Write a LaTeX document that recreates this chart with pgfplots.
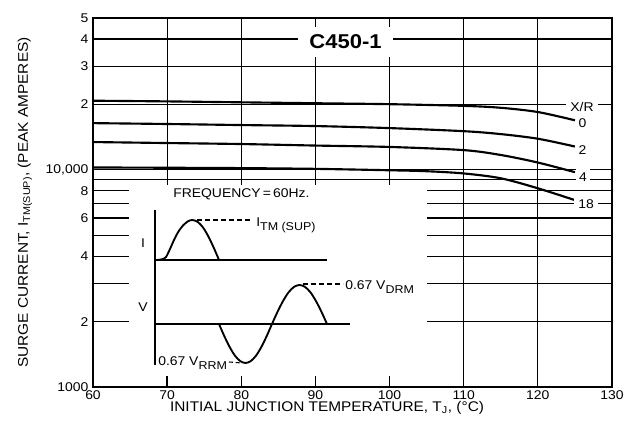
\documentclass[border=0pt]{standalone}
\usepackage{fontspec}
\setmainfont{Liberation Sans}[FakeStretch=1.1]
\usepackage{pgfplots}
\pgfplotsset{compat=1.18}
\begin{document}
\begin{tikzpicture}
\useasboundingbox (-69.75pt,-35.25pt) rectangle (407.25pt,290.25pt);
\begin{axis}[
  scale only axis, width=389.25pt, height=276.75pt,
  at={(0,0)}, anchor=south west,
  xmin=60, xmax=130, ymin=1000, ymax=50000, ymode=log, log basis y=10,
  xtick={60,70,...,130},
  ytick={1000,2000,3000,4000,5000,6000,7000,8000,9000,10000,20000,30000,40000,50000},
  yticklabels={1000,2,,4,,6,,8,,{10,000},2,3,4,5},
  xmajorgrids, ymajorgrids,
  grid style={black, line width=0.9pt},
  major tick length=0pt,
  axis line style={line width=1.1pt},
  /pgf/number format/assume math mode=true,
  ticklabel style={font=\fontsize{9.5}{10}\selectfont},
  xticklabel style={yshift=1pt},
  xlabel={INITIAL JUNCTION TEMPERATURE, T\textsubscript{J}, (°C)},
  ylabel={SURGE CURRENT, I\textsubscript{TM(SUP)}, (PEAK AMPERES)},
  label style={font=\fontsize{10.5}{12}\selectfont},
  xlabel style={at={(axis description cs:0.451,-0.057)}, anchor=center},
  ylabel style={at={(axis description cs:-0.131,0.5)}, anchor=center},
]
% X/R = 0
\addplot[black, line width=1.6pt, smooth] coordinates {
 (60,20800) (70,20650) (80,20450) (90,20250) (100,20050) (110,19700) (115,19300) (120,18450) (125,16900)};
% X/R = 2
\addplot[black, line width=1.6pt, smooth] coordinates {
 (60,16400) (70,16250) (80,16070) (90,15900) (100,15560) (110,15060) (115,14600) (120,13900) (125,12800)};
% X/R = 4
\addplot[black, line width=1.6pt, smooth] coordinates {
 (60,13420) (70,13280) (80,13140) (90,12930) (100,12740) (110,12320) (115,11700) (120,10800) (125,9750)};
% X/R = 18
\addplot[black, line width=1.6pt, smooth] coordinates {
 (60,10250) (70,10220) (80,10180) (90,10100) (100,9950) (105,9850) (110,9620) (115,9140) (120,8220) (125,7250)};
\end{axis}
% overlay in pixel units of the reference
\begin{axis}[
  scale only axis, width=389.25pt, height=276.75pt,
  at={(0,0)}, anchor=south west,
  xmin=93, xmax=612, ymin=-387, ymax=-18, hide axis, clip=false,
]
\fill[white] (axis cs:129,-385) rectangle (axis cs:427,-185.5);
\foreach \p in {167.1,241.3,315.4,389.6}{
  \edef\tmp{\noexpand\draw[line width=1pt] (axis cs:\p,-387) -- (axis cs:\p,-376);}\tmp
}
\node[fill=white, font=\bfseries\fontsize{15}{15}\selectfont, minimum width=71pt, minimum height=23pt, inner sep=0pt] at (axis cs:345.5,-42) {C450-1};
% curve labels
\node[fill=white, font=\fontsize{9.5}{10}\selectfont, inner xsep=3pt, inner ysep=1pt] at (axis cs:582,-107) {X/R};
\node[font=\fontsize{9.5}{10}\selectfont, inner sep=1pt] at (axis cs:582.5,-123) {0};
\node[font=\fontsize{9.5}{10}\selectfont, inner sep=1pt] at (axis cs:582.5,-150) {2};
\node[fill=white, font=\fontsize{9.5}{10}\selectfont, inner xsep=2.5pt, inner ysep=2.5pt] at (axis cs:583,-177) {4};
\node[fill=white, font=\fontsize{9.5}{10}\selectfont, inner xsep=3pt, inner ysep=1.5pt] at (axis cs:586,-204) {18};
% inset
\node[anchor=west, font=\fontsize{9.5}{11}\selectfont, inner sep=0pt] at (axis cs:173,-194) {FREQUENCY\,=\,60Hz.};
\addplot[black, line width=1.1pt] coordinates {(155,-210) (155,-365)};
\addplot[black, line width=1.1pt] coordinates {(155,-260) (327,-260)};
\addplot[black, line width=1.1pt] coordinates {(155,-324) (350,-324)};
\addplot[black, line width=1.4pt, smooth] coordinates {
 (157,-260) (162,-259.3) (166,-257) (170,-249) (174,-240) (178.5,-231.5) (183,-225.5) (188,-221.3) (192.5,-220)
 (197.8,-222) (203.1,-227.6) (208.4,-236.5) (213.7,-247.6) (219,-260)};
\addplot[black, line width=1.4pt, smooth] coordinates {
 (219,-324) (224.3,-336.1) (229.6,-346.9) (234.9,-355.6) (240.2,-361.1) (245.5,-363) (250.8,-361.1) (256.1,-355.6) (261.4,-346.9) (266.7,-336.1) (272,-324)
 (277.5,-311.9) (283,-301.1) (288.5,-292.4) (294,-286.9) (299.5,-285) (305,-286.9) (310.5,-292.4) (316,-301.1) (321.5,-311.9) (327,-324)};
\addplot[black, line width=0.8pt, dash pattern=on 3.5pt off 2.5pt] coordinates {(197,-220) (253,-220)};
\addplot[black, line width=0.8pt, dash pattern=on 3.5pt off 2.5pt] coordinates {(303,-284) (343,-284)};
\addplot[black, line width=0.8pt, dash pattern=on 3pt off 2pt] coordinates {(229,-362) (242,-363)};
\node[anchor=base west, font=\fontsize{9.5}{11}\selectfont, inner sep=0pt] at (axis cs:256,-227) {I\raisebox{-3pt}{\fontsize{8.5}{9}\selectfont TM (SUP)}};
\node[anchor=base west, font=\fontsize{9.5}{11}\selectfont, inner sep=0pt] at (axis cs:345,-290) {0.67 V\raisebox{-3pt}{\fontsize{8.5}{9}\selectfont DRM}};
\node[anchor=base west, font=\fontsize{9.5}{11}\selectfont, inner sep=0pt] at (axis cs:158,-366) {0.67 V\raisebox{-3pt}{\fontsize{8.5}{9}\selectfont RRM}};
\node[font=\fontsize{9.5}{11}\selectfont, inner sep=0pt] at (axis cs:143,-243) {I};
\node[font=\fontsize{9.5}{11}\selectfont, inner sep=0pt] at (axis cs:143,-307) {V};
\end{axis}
\end{tikzpicture}
\end{document}
